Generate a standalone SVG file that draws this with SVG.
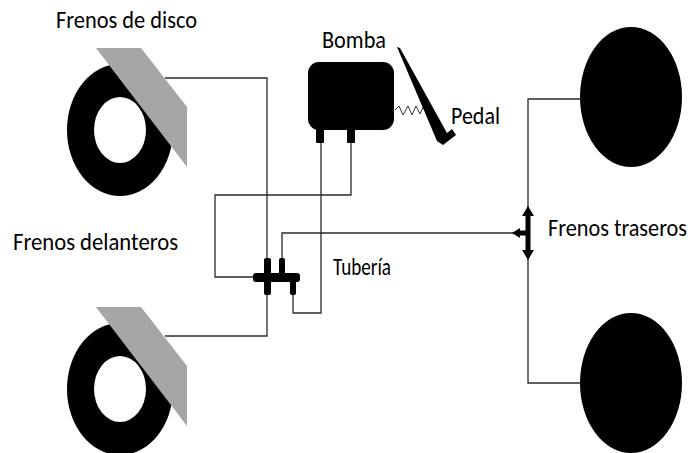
<svg xmlns="http://www.w3.org/2000/svg" width="694" height="453" viewBox="0 0 694 453">
  <style>
    .pipe { fill: none; stroke: #2a2a2a; stroke-width: 1.3; }
    .lbl { font-family: Calibri, Carlito, "Liberation Sans", Arial, sans-serif; font-size: 25px; fill: #000; }
    .rotor { fill: #000; }
    .hole { fill: #fff; }
    .caliper { fill: #a6a6a6; }
  </style>
  <defs>
    <!-- front disc brake: rotor plus caliper -->
    <g id="disc">
      <ellipse class="rotor" cx="120" cy="130" rx="53" ry="66"/>
      <ellipse class="hole" cx="120" cy="130" rx="26" ry="33"/>
      <polygon class="caliper" points="96,48 141,48 187,107 187,167"/>
    </g>
  </defs>
  <rect width="694" height="453" fill="#fff"/>

  <!-- piping -->
  <g id="connectors">
    <!-- front calipers to the tee -->
    <polyline class="pipe" points="165,78 267,78 267,336 165,336"/>
    <!-- pump outlet 2 -->
    <polyline class="pipe" points="351,143 351,195 215,195 215,277 255,277"/>
    <!-- pump outlet 1 -->
    <polyline class="pipe" points="321,143 321,313 293,313 293,295"/>
    <!-- line to rear axle -->
    <polyline class="pipe" points="282,258 282,233 520,233"/>
    <!-- rear distribution -->
    <polyline class="pipe" points="580,99 528,99 528,383 580,383"/>
  </g>

  <g id="front-disc-top">
    <use href="#disc"/>
  </g>
  <g id="front-disc-bottom">
    <use href="#disc" transform="translate(0,259)"/>
  </g>

  <g id="rear-wheel-top">
    <ellipse cx="631" cy="97" rx="51" ry="70" fill="#000"/>
  </g>
  <g id="rear-wheel-bottom">
    <ellipse cx="631" cy="383" rx="51" ry="70" fill="#000"/>
  </g>

  <!-- master cylinder -->
  <g id="bomba">
    <rect x="308" y="62" width="86" height="68" rx="11" fill="#000"/>
    <rect x="316" y="126" width="8" height="17" rx="1" fill="#000"/>
    <rect x="347" y="126" width="8" height="17" rx="1" fill="#000"/>
  </g>

  <!-- pedal with return spring -->
  <g id="pedal">
    <polyline points="395,110 399,106 403,115 408,106 412,115 416,106 420,114 424,105" fill="none" stroke="#333" stroke-width="1"/>
    <polygon points="397,47 400,48 447,133 452,129 456,135 443,145 437,141" fill="#000"/>
  </g>

  <!-- front tee fitting -->
  <g id="tee-front">
    <rect x="253" y="273" width="47" height="9" rx="3" fill="#000"/>
    <rect x="264" y="258" width="7" height="37" rx="2" fill="#000"/>
    <rect x="279" y="258" width="6" height="20" rx="2" fill="#000"/>
    <rect x="290" y="278" width="6" height="17" rx="2" fill="#000"/>
  </g>

  <!-- rear tee fitting -->
  <g id="tee-rear">
    <rect x="525.5" y="214" width="5" height="38" fill="#000"/>
    <polygon points="528,206 534,216 522,216" fill="#000"/>
    <polygon points="528,260 534,250 522,250" fill="#000"/>
    <rect x="518" y="230.5" width="10" height="5" fill="#000"/>
    <polygon points="512,233 520,228 520,238" fill="#000"/>
  </g>

  <!-- labels -->
  <g id="labels">
    <text class="lbl" x="56" y="28" textLength="141" lengthAdjust="spacingAndGlyphs">Frenos de disco</text>
    <text class="lbl" x="322" y="48" textLength="64" lengthAdjust="spacingAndGlyphs">Bomba</text>
    <text class="lbl" x="451" y="124" textLength="49" lengthAdjust="spacingAndGlyphs">Pedal</text>
    <text class="lbl" x="13" y="250" textLength="165" lengthAdjust="spacingAndGlyphs">Frenos delanteros</text>
    <text class="lbl" x="333" y="275" textLength="58" lengthAdjust="spacingAndGlyphs">Tubería</text>
    <text class="lbl" x="548" y="236" textLength="139" lengthAdjust="spacingAndGlyphs">Frenos traseros</text>
  </g>
</svg>
